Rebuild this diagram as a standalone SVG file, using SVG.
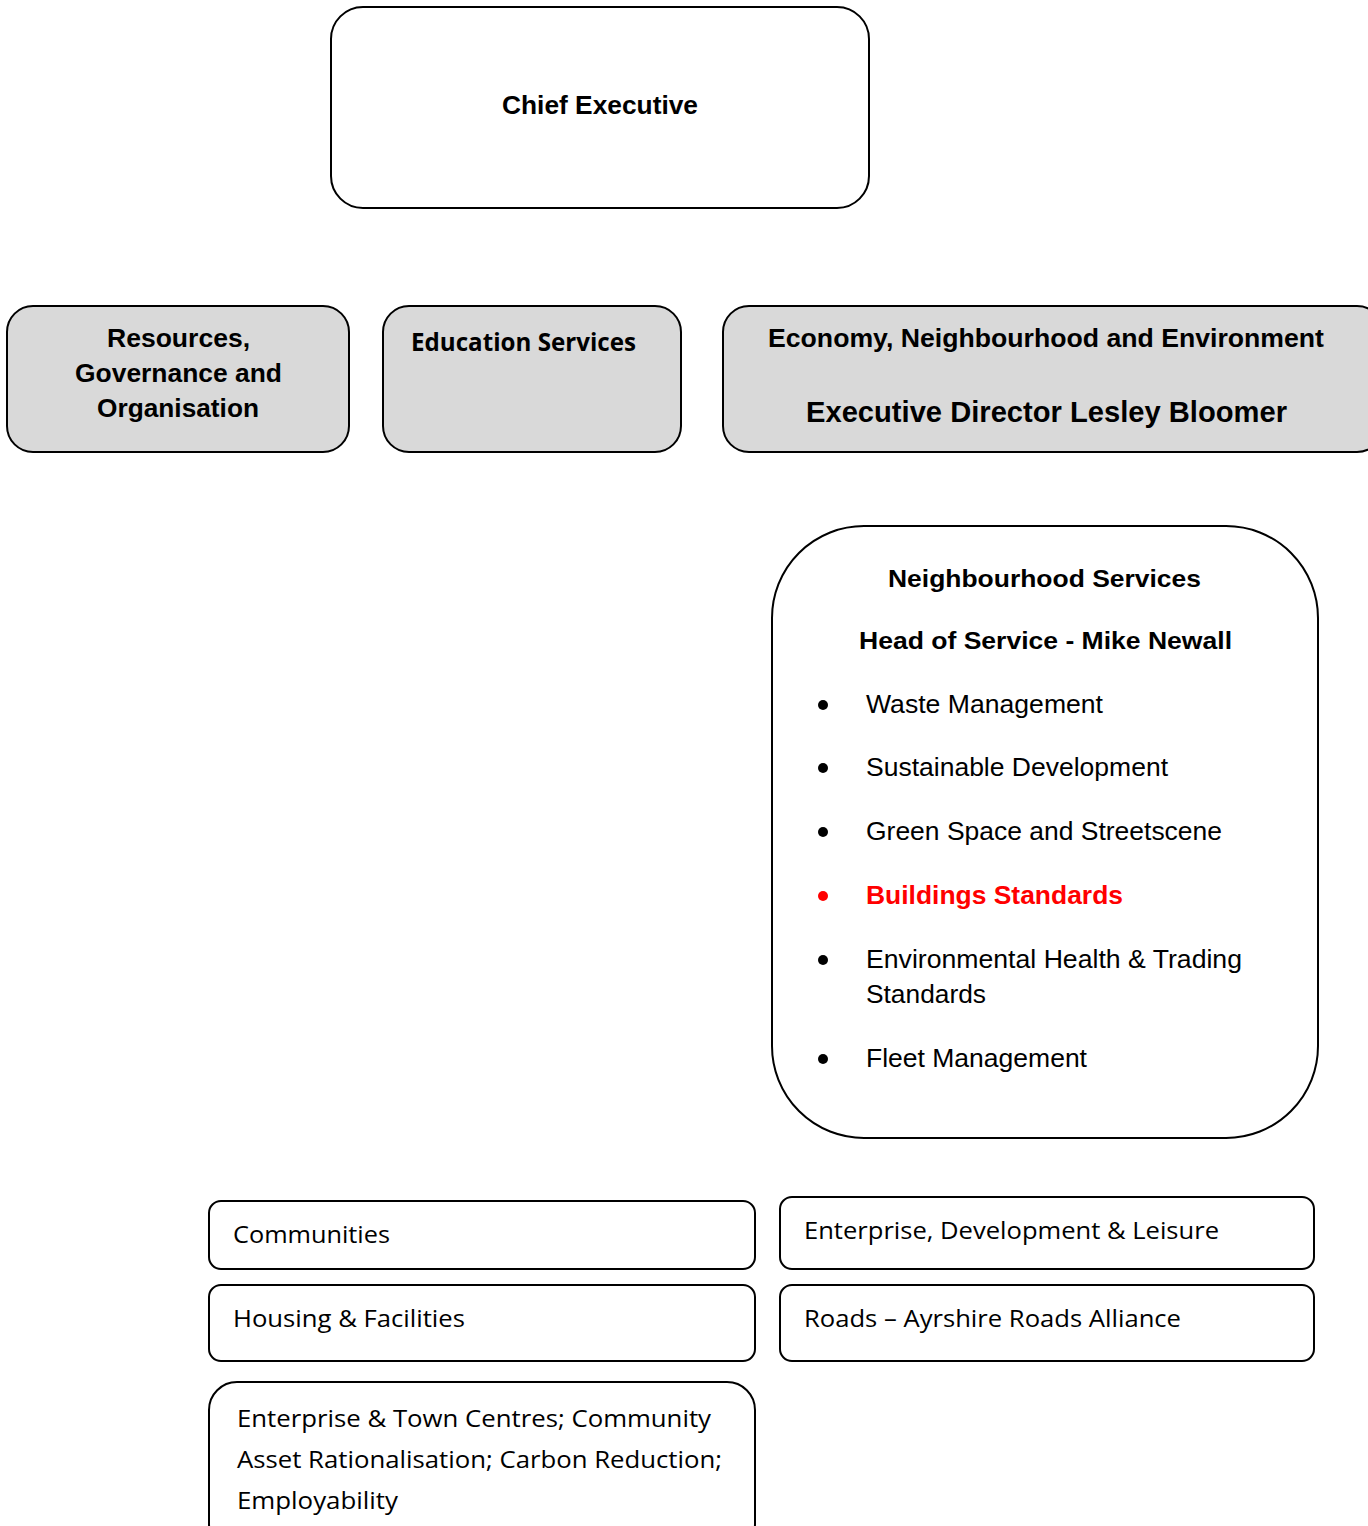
<svg xmlns="http://www.w3.org/2000/svg" width="1368" height="1526" viewBox="0 0 1368 1526">
<style>
.box{fill:#fff;stroke:#000;stroke-width:2}
.grey{fill:#d9d9d9;stroke:#000;stroke-width:2}
.ab{font-family:"Liberation Sans",Arial,sans-serif;font-weight:bold;fill:#000}
.ar{font-family:"Liberation Sans",Arial,sans-serif;fill:#000}
.cal{font-family:"Open Sans","Liberation Sans",sans-serif;fill:#000}
.red{fill:#ff0000}
</style>
<rect width="1368" height="1526" fill="#fff"/>
<g id="connectors"></g>
<g id="chief-executive">
<rect class="box" x="331" y="7" width="538" height="201" rx="32"/>
<text class="ab" x="502" y="114" font-size="26" textLength="196" lengthAdjust="spacingAndGlyphs">Chief Executive</text>
</g>
<g id="resources">
<rect class="grey" x="7" y="306" width="342" height="146" rx="26"/>
<text class="ab" font-size="26">
<tspan x="107" y="347" textLength="143" lengthAdjust="spacingAndGlyphs">Resources,</tspan>
<tspan x="75" y="382" textLength="207" lengthAdjust="spacingAndGlyphs">Governance and</tspan>
<tspan x="97" y="417" textLength="162" lengthAdjust="spacingAndGlyphs">Organisation</tspan>
</text>
</g>
<g id="education">
<rect class="grey" x="383" y="306" width="298" height="146" rx="26"/>
<text class="cal" x="411" y="351" font-size="25" font-weight="bold" textLength="225" lengthAdjust="spacingAndGlyphs">Education Services</text>
</g>
<g id="economy">
<rect class="grey" x="723" y="306" width="660" height="146" rx="26"/>
<text class="ab" x="768" y="347" font-size="26" textLength="556" lengthAdjust="spacingAndGlyphs">Economy, Neighbourhood and Environment</text>
<text class="ab" x="806" y="422" font-size="29" textLength="481" lengthAdjust="spacingAndGlyphs">Executive Director Lesley Bloomer</text>
</g>
<g id="neighbourhood">
<rect class="box" x="772" y="526" width="546" height="612" rx="92"/>
<text class="ab" x="888" y="587" font-size="24" textLength="313" lengthAdjust="spacingAndGlyphs">Neighbourhood Services</text>
<text class="ab" x="859" y="649" font-size="24" textLength="373" lengthAdjust="spacingAndGlyphs">Head of Service - Mike Newall</text>
<circle cx="823" cy="705" r="5"/>
<text class="ar" x="866" y="713" font-size="26" textLength="237" lengthAdjust="spacingAndGlyphs">Waste Management</text>
<circle cx="823" cy="768" r="5"/>
<text class="ar" x="866" y="776" font-size="26" textLength="302" lengthAdjust="spacingAndGlyphs">Sustainable Development</text>
<circle cx="823" cy="832" r="5"/>
<text class="ar" x="866" y="840" font-size="26" textLength="356" lengthAdjust="spacingAndGlyphs">Green Space and Streetscene</text>
<circle cx="823" cy="896" r="5" fill="#ff0000"/>
<text class="ab red" x="866" y="904" font-size="26" textLength="257" lengthAdjust="spacingAndGlyphs">Buildings Standards</text>
<circle cx="823" cy="960" r="5"/>
<text class="ar" x="866" y="968" font-size="26" textLength="376" lengthAdjust="spacingAndGlyphs">Environmental Health &amp; Trading</text>
<text class="ar" x="866" y="1003" font-size="26" textLength="120" lengthAdjust="spacingAndGlyphs">Standards</text>
<circle cx="823" cy="1059" r="5"/>
<text class="ar" x="866" y="1067" font-size="26" textLength="221" lengthAdjust="spacingAndGlyphs">Fleet Management</text>
</g>
<g id="communities">
<rect class="box" x="209" y="1201" width="546" height="68" rx="12"/>
<text class="cal" x="233" y="1243" font-size="24" textLength="157" lengthAdjust="spacingAndGlyphs">Communities</text>
</g>
<g id="housing">
<rect class="box" x="209" y="1285" width="546" height="76" rx="12"/>
<text class="cal" x="233" y="1327" font-size="24" textLength="232" lengthAdjust="spacingAndGlyphs">Housing &amp; Facilities</text>
</g>
<g id="enterprise-town">
<rect class="box" x="209" y="1382" width="546" height="170" rx="28"/>
<text class="cal" x="237" y="1427" font-size="24" textLength="474" lengthAdjust="spacingAndGlyphs">Enterprise &amp; Town Centres; Community</text>
<text class="cal" x="237" y="1468" font-size="24" textLength="485" lengthAdjust="spacingAndGlyphs">Asset Rationalisation; Carbon Reduction;</text>
<text class="cal" x="237" y="1509" font-size="24" textLength="161" lengthAdjust="spacingAndGlyphs">Employability</text>
</g>
<g id="enterprise-development">
<rect class="box" x="780" y="1197" width="534" height="72" rx="12"/>
<text class="cal" x="804" y="1239" font-size="24" textLength="415" lengthAdjust="spacingAndGlyphs">Enterprise, Development &amp; Leisure</text>
</g>
<g id="roads">
<rect class="box" x="780" y="1285" width="534" height="76" rx="12"/>
<text class="cal" x="804" y="1327" font-size="24" textLength="377" lengthAdjust="spacingAndGlyphs">Roads – Ayrshire Roads Alliance</text>
</g>
</svg>
